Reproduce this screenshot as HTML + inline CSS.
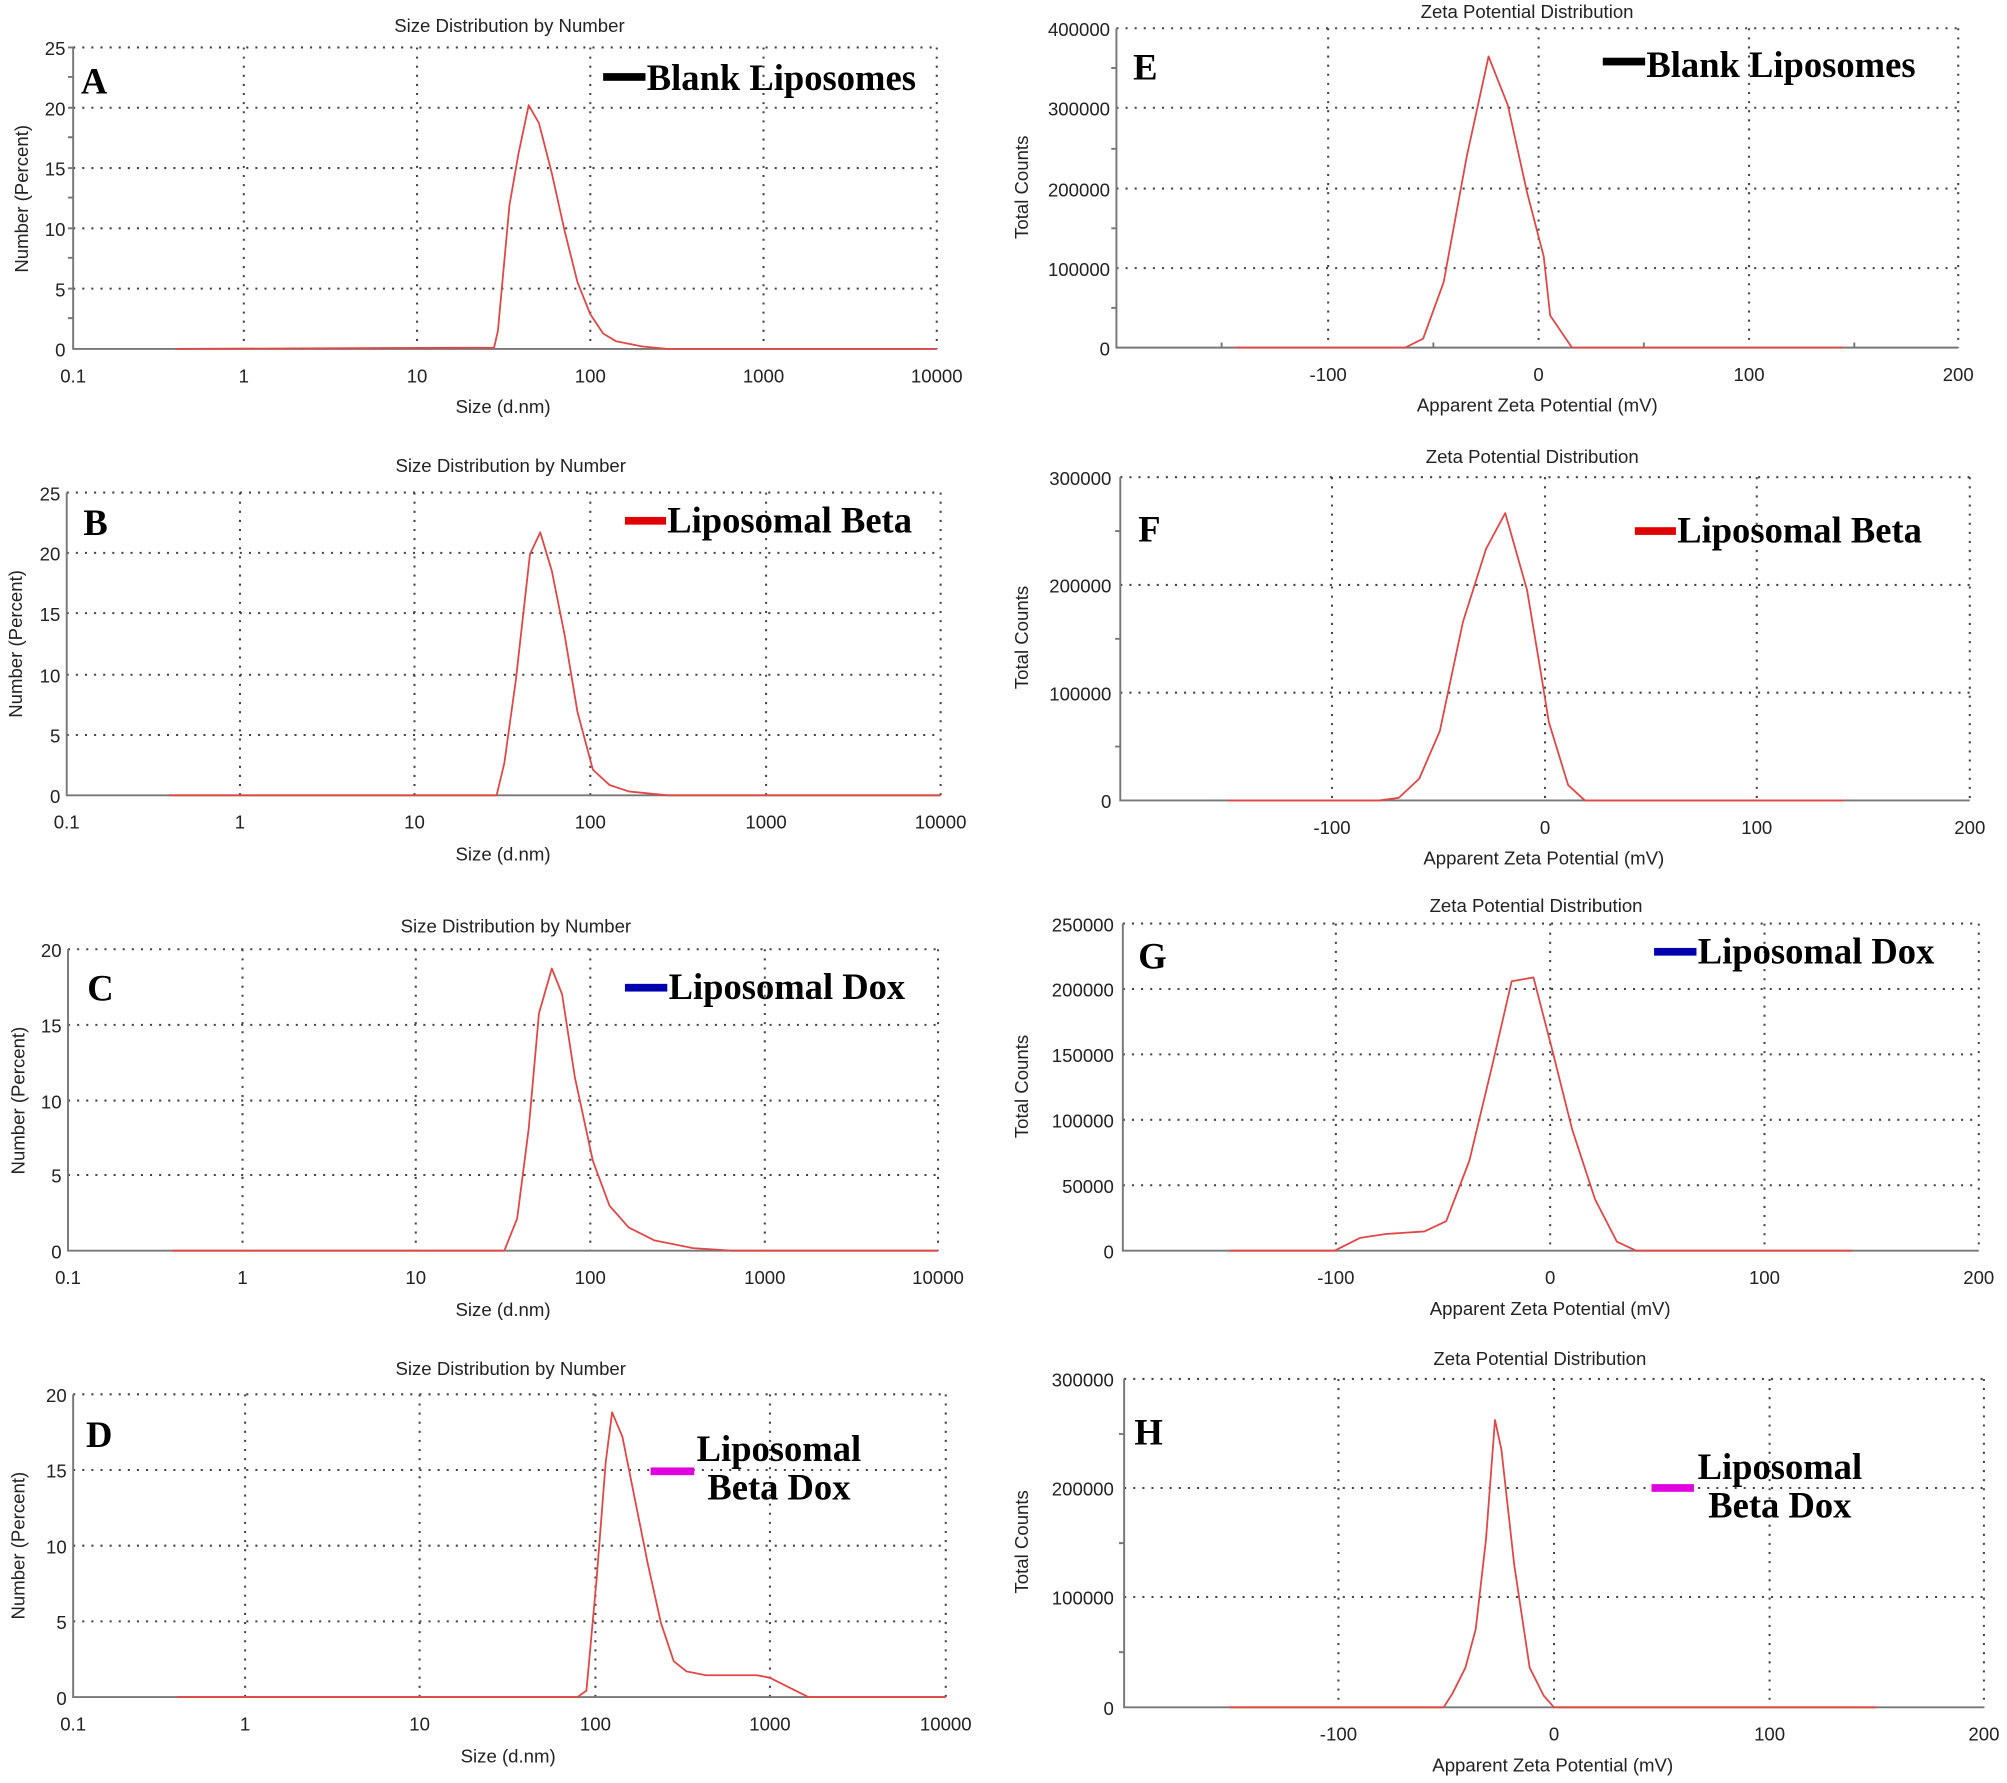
<!DOCTYPE html>
<html><head><meta charset="utf-8"><style>
html,body{margin:0;padding:0;background:#fff}
svg{display:block}
.t{font-family:"Liberation Sans",sans-serif;font-size:14.5px;fill:#222}
.tk{font-family:"Liberation Sans",sans-serif;font-size:14.5px;fill:#222}
.lg{font-family:"Liberation Serif",serif;font-weight:bold;font-size:28.5px;fill:#000}
.grid{stroke:#444;stroke-width:1.6;stroke-dasharray:1.6 5.5}
.ax{stroke:#777;stroke-width:1.5;fill:none}
.c{stroke:#e04848;stroke-width:1.4;fill:none;stroke-linejoin:round}
</style></head><body>
<svg width="2007" height="1783" viewBox="0 0 1564 1390" preserveAspectRatio="none" xmlns="http://www.w3.org/2000/svg">
<rect width="1564" height="1390" fill="#fff"/>

<!-- A -->
<g>
<text class="t" x="397" y="25" text-anchor="middle">Size Distribution by Number</text>
<path class="grid" d="M57 37H730M57 84H730M57 131H730M57 178H730M57 225H730M190 37V272M325 37V272M460 37V272M595 37V272M730 37V272"/>
<path class="ax" d="M57 37V272H730"/>
<path class="ax" d="M53 37H57M53 84H57M53 131H57M53 178H57M53 225H57M53 60H57M53 107H57M53 154H57M53 201H57M53 248H57"/>
<g class="tk" text-anchor="end"><text x="51" y="43">25</text><text x="51" y="90">20</text><text x="51" y="137">15</text><text x="51" y="184">10</text><text x="51" y="231">5</text><text x="51" y="278">0</text></g>
<g class="tk" text-anchor="middle"><text x="57" y="298">0.1</text><text x="190" y="298">1</text><text x="325" y="298">10</text><text x="460" y="298">100</text><text x="595" y="298">1000</text><text x="730" y="298">10000</text></g>
<text class="t" x="392" y="322" text-anchor="middle">Size (d.nm)</text>
<text class="t" transform="translate(22,155) rotate(-90)" text-anchor="middle">Number (Percent)</text>
<polyline class="c" points="137,272 385,271 388,258 397,160 404,120 412,82 420,96 430,135 440,180 450,220 460,245 470,260 480,266 500,270 520,272 730,272"/>
<text class="lg" x="63" y="73">A</text>
<rect x="470" y="57" width="33" height="6" fill="#000"/>
<text class="lg" x="504" y="70">Blank Liposomes</text>
</g>

<!-- B -->
<g>
<text class="t" x="398" y="368" text-anchor="middle">Size Distribution by Number</text>
<path class="grid" d="M52 384H733M52 431H733M52 478H733M52 526H733M52 573H733M187 384V620M323 384V620M460 384V620M597 384V620M733 384V620"/>
<path class="ax" d="M52 384V620H733"/>
<g class="tk" text-anchor="end"><text x="47" y="390">25</text><text x="47" y="437">20</text><text x="47" y="484">15</text><text x="47" y="532">10</text><text x="47" y="579">5</text><text x="47" y="626">0</text></g>
<g class="tk" text-anchor="middle"><text x="52" y="646">0.1</text><text x="187" y="646">1</text><text x="323" y="646">10</text><text x="460" y="646">100</text><text x="597" y="646">1000</text><text x="733" y="646">10000</text></g>
<text class="t" x="392" y="671" text-anchor="middle">Size (d.nm)</text>
<text class="t" transform="translate(17,502) rotate(-90)" text-anchor="middle">Number (Percent)</text>
<polyline class="c" points="132,620 387,620 393,595 402,530 413,432 421,415 430,445 440,495 450,555 462,600 475,612 490,617 520,620 733,620"/>
<text class="lg" x="65" y="417">B</text>
<rect x="487" y="403" width="32" height="6" fill="#e00000"/>
<text class="lg" x="520" y="415">Liposomal Beta</text>
</g>

<!-- C -->
<g>
<text class="t" x="402" y="727" text-anchor="middle">Size Distribution by Number</text>
<path class="grid" d="M53 740H731M53 799H731M53 858H731M53 916H731M189 740V975M324 740V975M460 740V975M596 740V975M731 740V975"/>
<path class="ax" d="M53 740V975H731"/>
<g class="tk" text-anchor="end"><text x="48" y="746">20</text><text x="48" y="805">15</text><text x="48" y="864">10</text><text x="48" y="922">5</text><text x="48" y="981">0</text></g>
<g class="tk" text-anchor="middle"><text x="53" y="1001">0.1</text><text x="189" y="1001">1</text><text x="324" y="1001">10</text><text x="460" y="1001">100</text><text x="596" y="1001">1000</text><text x="731" y="1001">10000</text></g>
<text class="t" x="392" y="1026" text-anchor="middle">Size (d.nm)</text>
<text class="t" transform="translate(19,858) rotate(-90)" text-anchor="middle">Number (Percent)</text>
<polyline class="c" points="134,975 393,975 403,950 412,880 420,790 430,755 438,775 448,840 462,905 475,940 490,957 510,967 540,973 570,975 731,975"/>
<text class="lg" x="68" y="780">C</text>
<rect x="487" y="767" width="33" height="6" fill="#0000b0"/>
<text class="lg" x="521" y="779">Liposomal Dox</text>
</g>

<!-- D -->
<g>
<text class="t" x="398" y="1072" text-anchor="middle">Size Distribution by Number</text>
<path class="grid" d="M57 1087H737M57 1146H737M57 1205H737M57 1264H737M191 1087V1323M327 1087V1323M464 1087V1323M600 1087V1323M737 1087V1323"/>
<path class="ax" d="M57 1087V1323H737"/>
<g class="tk" text-anchor="end"><text x="52" y="1093">20</text><text x="52" y="1152">15</text><text x="52" y="1211">10</text><text x="52" y="1270">5</text><text x="52" y="1329">0</text></g>
<g class="tk" text-anchor="middle"><text x="57" y="1349">0.1</text><text x="191" y="1349">1</text><text x="327" y="1349">10</text><text x="464" y="1349">100</text><text x="600" y="1349">1000</text><text x="737" y="1349">10000</text></g>
<text class="t" x="396" y="1374" text-anchor="middle">Size (d.nm)</text>
<text class="t" transform="translate(19,1205) rotate(-90)" text-anchor="middle">Number (Percent)</text>
<polyline class="c" points="138,1323 450,1323 457,1318 465,1230 472,1140 477,1101 485,1120 495,1170 505,1220 515,1265 525,1295 535,1303 550,1306 590,1306 600,1308 620,1318 630,1323 737,1323"/>
<text class="lg" x="67" y="1128">D</text>
<rect x="507" y="1144" width="34" height="6" fill="#e000e0"/>
<text class="lg" x="607" y="1139" text-anchor="middle">Liposomal</text>
<text class="lg" x="607" y="1169" text-anchor="middle">Beta Dox</text>
</g>

<!-- E -->
<g>
<text class="t" x="1190" y="14" text-anchor="middle">Zeta Potential Distribution</text>
<path class="grid" d="M870 22H1526M870 84H1526M870 147H1526M870 209H1526M1035 22V271M1199 22V271M1363 22V271M1526 22V271"/>
<path class="ax" d="M870 22V271H1526"/>
<path class="ax" d="M952 267V271M1117 267V271M1281 267V271M1445 267V271M866 53H870M866 116H870M866 178H870M866 240H870"/>
<g class="tk" text-anchor="end"><text x="865" y="28">400000</text><text x="865" y="90">300000</text><text x="865" y="153">200000</text><text x="865" y="215">100000</text><text x="865" y="277">0</text></g>
<g class="tk" text-anchor="middle"><text x="1035" y="297">-100</text><text x="1199" y="297">0</text><text x="1363" y="297">100</text><text x="1526" y="297">200</text></g>
<text class="t" x="1198" y="321" text-anchor="middle">Apparent Zeta Potential (mV)</text>
<text class="t" transform="translate(801,146) rotate(-90)" text-anchor="middle">Total Counts</text>
<polyline class="c" points="962,271 1095,271 1109,264 1125,220 1143,122 1160,44 1175,82 1190,150 1203,200 1208,246 1225,271 1437,271"/>
<text class="lg" x="883" y="62">E</text>
<rect x="1249" y="45" width="33" height="6" fill="#000"/>
<text class="lg" x="1283" y="60">Blank Liposomes</text>
</g>

<!-- F -->
<g>
<text class="t" x="1194" y="361" text-anchor="middle">Zeta Potential Distribution</text>
<path class="grid" d="M873 372H1535M873 456H1535M873 540H1535M1038 372V624M1204 372V624M1369 372V624M1535 372V624"/>
<path class="ax" d="M873 372V624H1535"/>
<path class="ax" d="M869 414H873M869 498H873M869 582H873"/>
<g class="tk" text-anchor="end"><text x="866" y="378">300000</text><text x="866" y="462">200000</text><text x="866" y="546">100000</text><text x="866" y="630">0</text></g>
<g class="tk" text-anchor="middle"><text x="1038" y="650">-100</text><text x="1204" y="650">0</text><text x="1369" y="650">100</text><text x="1535" y="650">200</text></g>
<text class="t" x="1203" y="674" text-anchor="middle">Apparent Zeta Potential (mV)</text>
<text class="t" transform="translate(801,497) rotate(-90)" text-anchor="middle">Total Counts</text>
<polyline class="c" points="957,624 1075,624 1090,622 1106,607 1122,570 1140,485 1158,428 1173,400 1190,460 1200,520 1207,563 1222,612 1235,624 1437,624"/>
<text class="lg" x="887" y="422">F</text>
<rect x="1274" y="411" width="32" height="6" fill="#e00000"/>
<text class="lg" x="1307" y="423">Liposomal Beta</text>
</g>

<!-- G -->
<g>
<text class="t" x="1197" y="711" text-anchor="middle">Zeta Potential Distribution</text>
<path class="grid" d="M875 720H1542M875 771H1542M875 822H1542M875 873H1542M875 924H1542M1041 720V975M1208 720V975M1375 720V975M1542 720V975"/>
<path class="ax" d="M875 720V975H1542"/>
<g class="tk" text-anchor="end"><text x="868" y="726">250000</text><text x="868" y="777">200000</text><text x="868" y="828">150000</text><text x="868" y="879">100000</text><text x="868" y="930">50000</text><text x="868" y="981">0</text></g>
<g class="tk" text-anchor="middle"><text x="1041" y="1001">-100</text><text x="1208" y="1001">0</text><text x="1375" y="1001">100</text><text x="1542" y="1001">200</text></g>
<text class="t" x="1208" y="1025" text-anchor="middle">Apparent Zeta Potential (mV)</text>
<text class="t" transform="translate(801,847) rotate(-90)" text-anchor="middle">Total Counts</text>
<polyline class="c" points="958,975 1040,975 1060,965 1080,962 1110,960 1127,952 1145,905 1163,830 1178,765 1195,762 1210,820 1225,880 1243,935 1260,968 1275,975 1443,975"/>
<text class="lg" x="887" y="755">G</text>
<rect x="1289" y="739" width="33" height="6" fill="#0000b0"/>
<text class="lg" x="1323" y="751">Liposomal Dox</text>
</g>

<!-- H -->
<g>
<text class="t" x="1200" y="1064" text-anchor="middle">Zeta Potential Distribution</text>
<path class="grid" d="M876 1075H1546M876 1160H1546M876 1245H1546M1043 1075V1331M1211 1075V1331M1379 1075V1331M1546 1075V1331"/>
<path class="ax" d="M876 1075V1331H1546"/>
<path class="ax" d="M872 1118H876M872 1203H876M872 1288H876"/>
<g class="tk" text-anchor="end"><text x="868" y="1081">300000</text><text x="868" y="1166">200000</text><text x="868" y="1251">100000</text><text x="868" y="1337">0</text></g>
<g class="tk" text-anchor="middle"><text x="1043" y="1357">-100</text><text x="1211" y="1357">0</text><text x="1379" y="1357">100</text><text x="1546" y="1357">200</text></g>
<text class="t" x="1210" y="1381" text-anchor="middle">Apparent Zeta Potential (mV)</text>
<text class="t" transform="translate(801,1202) rotate(-90)" text-anchor="middle">Total Counts</text>
<polyline class="c" points="958,1331 1125,1331 1132,1320 1142,1300 1150,1270 1158,1200 1165,1107 1170,1130 1180,1220 1192,1300 1203,1322 1211,1331 1462,1331"/>
<text class="lg" x="884" y="1126">H</text>
<rect x="1287" y="1157" width="33" height="6" fill="#e000e0"/>
<text class="lg" x="1387" y="1153" text-anchor="middle">Liposomal</text>
<text class="lg" x="1387" y="1183" text-anchor="middle">Beta Dox</text>
</g>
</svg>
</body></html>
